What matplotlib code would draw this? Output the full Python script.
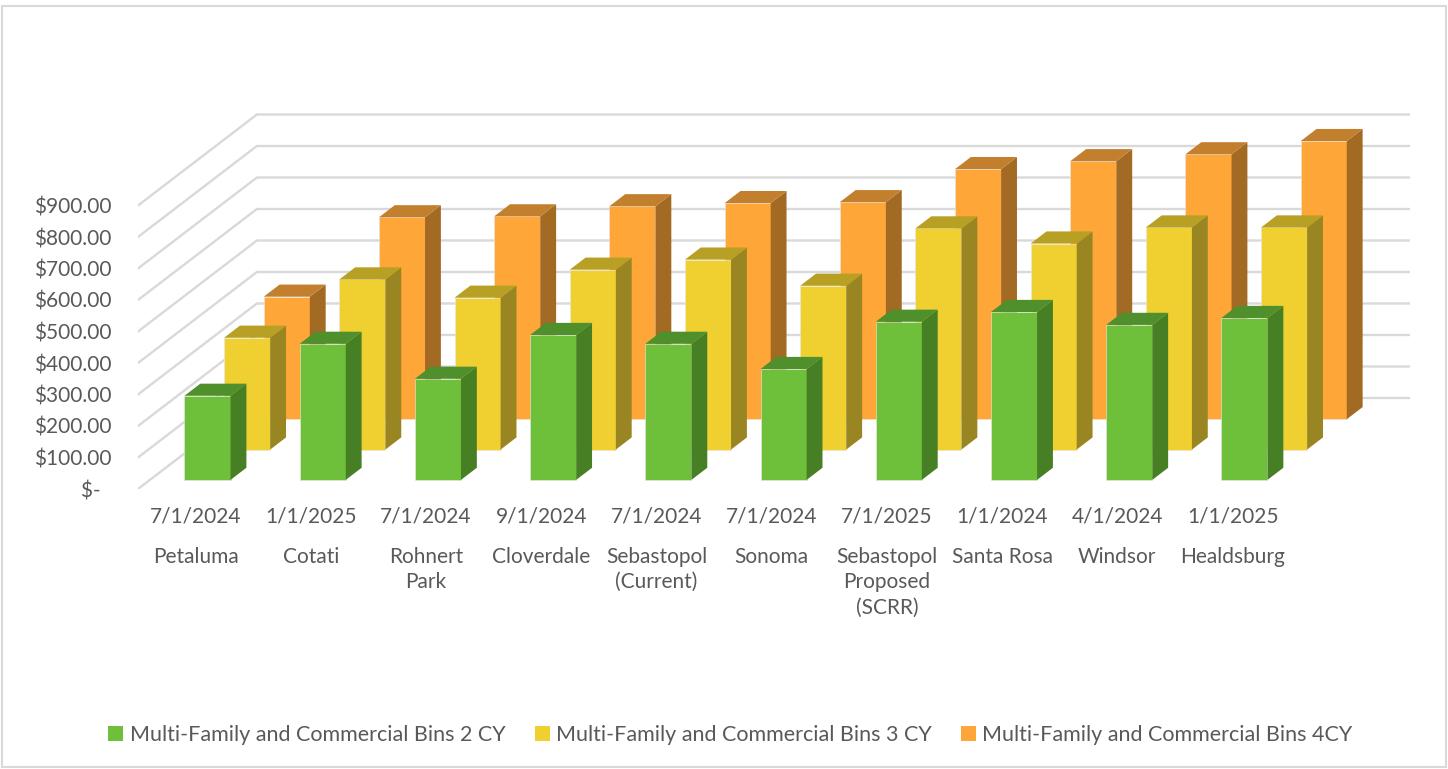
import matplotlib
matplotlib.use("Agg")
import matplotlib.pyplot as plt
from matplotlib.patches import Polygon, Patch, Rectangle

# chart data
cities = ["Petaluma", "Cotati", "Rohnert\nPark", "Cloverdale", "Sebastopol\n(Current)",
          "Sonoma", "Sebastopol\nProposed\n(SCRR)", "Santa Rosa", "Windsor", "Healdsburg"]
dates = ["7/1/2024", "1/1/2025", "7/1/2024", "9/1/2024", "7/1/2024",
         "7/1/2024", "7/1/2025", "1/1/2024", "4/1/2024", "1/1/2025"]
bins_2cy = [267, 432, 321, 460, 432, 352, 502, 533, 492, 514]
bins_3cy = [355, 540, 482, 571, 603, 520, 702, 654, 705, 705]
bins_4cy = [389, 641, 644, 676, 686, 689, 794, 819, 841, 883]
series_names = ["Multi-Family and Commercial Bins 2 CY",
                "Multi-Family and Commercial Bins 3 CY",
                "Multi-Family and Commercial Bins 4CY"]
yticks = [0, 100, 200, 300, 400, 500, 600, 700, 800, 900]

# face colours: front, side, top
colors = [("#6EC03A", "#477F25", "#4F8F2C"),
          ("#F0D030", "#998622", "#B8A024"),
          ("#FEA637", "#A26A22", "#C27F2D")]
TXT = "#595959"
GRID = "#D9D9D9"
FONT = "Lato"

# oblique projection: one series row shifts this much (x in categories, y in $)
DX, DY = 0.344, 96.3
BAR_W, BAR_D, GAP = 0.4, 0.4, 0.3

W, H = 1448, 769
fig = plt.figure(figsize=(W / 100, H / 100), dpi=100)
ax = fig.add_axes([138 / W, (H - 489) / H, (1410 - 138) / W, (489 - 111) / H])
ax.set_xlim(-0.5, 10.54)
ax.set_ylim(0, 1200)
for s in ax.spines.values():
    s.set_visible(False)
ax.patch.set_visible(False)

# gridlines: left side wall then back wall
n_rows = 3
for v in yticks:
    xb, yb = -0.5 + n_rows * DX, v + n_rows * DY
    ax.plot([-0.5, xb, 9.5 + n_rows * DX], [v, yb, yb], color=GRID, lw=1.7,
            zorder=1, solid_joinstyle="miter")

# bars, back row first
data = [bins_2cy, bins_3cy, bins_4cy]
for r in [2, 1, 0]:
    front, side, top = colors[r]
    bdx, bdy = BAR_D * DX, BAR_D * DY
    for i, v in enumerate(data[r]):
        x0 = i - BAR_W / 2 + (r + GAP) * DX
        x1 = x0 + BAR_W
        y0 = (r + GAP) * DY
        y1 = y0 + v
        z = 10 - r
        ax.add_patch(Polygon([(x0, y0), (x1, y0), (x1, y1), (x0, y1)],
                             facecolor=front, edgecolor="#e8e8e8", lw=0.4, zorder=z))
        ax.add_patch(Polygon([(x1, y0), (x1 + bdx, y0 + bdy), (x1 + bdx, y1 + bdy), (x1, y1)],
                             facecolor=side, edgecolor="none", zorder=z))
        ax.add_patch(Polygon([(x0, y1), (x1, y1), (x1 + bdx, y1 + bdy), (x0 + bdx, y1 + bdy)],
                             facecolor=top, edgecolor="none", zorder=z))

# axis labels
ax.set_yticks(yticks, ["$-  " if v == 0 else f"${v:,.2f}" for v in yticks])
ax.set_xticks(range(len(dates)), dates)
ax.tick_params(axis="y", length=0, pad=19, labelsize=15, labelcolor=TXT)
ax.tick_params(axis="x", length=0, pad=12.5, labelsize=15, labelcolor=TXT)
for lab in ax.get_xticklabels() + ax.get_yticklabels():
    lab.set_fontfamily(FONT)
for i, c in enumerate(cities):
    ax.annotate(c, xy=(i, 0), xycoords=("data", "axes fraction"), xytext=(0, -58),
                textcoords="offset pixels", ha="center", va="top", fontsize=15,
                color=TXT, family=FONT, linespacing=1.33, annotation_clip=False)

handles = [Patch(facecolor=colors[k][0], edgecolor="none") for k in range(3)]
leg = fig.legend(handles, series_names, loc="center", bbox_to_anchor=(0.5045, 1 - 735 / H),
                 ncol=3, frameon=False, handlelength=0.7, handleheight=0.7,
                 handletextpad=0.3, columnspacing=1.35, prop={"family": FONT, "size": 15.5})
for t in leg.get_texts():
    t.set_color(TXT)

# chart border
fig.patches.append(Rectangle((1.5 / W, 2 / H), (W - 4) / W, (H - 8) / H,
                             transform=fig.transFigure, fill=False,
                             edgecolor=GRID, lw=1.5))

fig.savefig("out.png", dpi=100)
